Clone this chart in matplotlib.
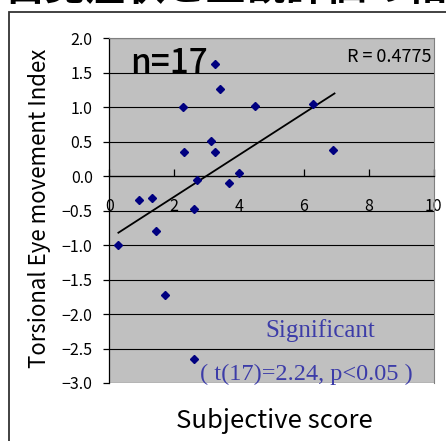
import matplotlib
matplotlib.use('Agg')
import matplotlib.pyplot as plt
from matplotlib.patches import Rectangle

plt.rcParams['font.family'] = ['Noto Sans CJK JP', 'DejaVu Sans']

# subjective score vs torsional eye movement index
score = [3.26, 3.40, 2.28, 4.50, 6.27, 3.13, 2.31, 3.27, 6.89, 4.01,
         2.70, 3.70, 0.93, 1.31, 2.62, 1.43, 0.28, 1.71, 2.62]
index = [1.62, 1.27, 1.00, 1.02, 1.05, 0.51, 0.35, 0.35, 0.38, 0.04,
         -0.06, -0.10, -0.34, -0.32, -0.48, -0.79, -1.00, -1.72, -2.65]

# regression line end points
fit_x = [0.28, 6.94]
fit_y = [-0.82, 1.20]

xticks = [0, 2, 4, 6, 8, 10]
yticks = [2.0, 1.5, 1.0, 0.5, 0.0, -0.5, -1.0, -1.5, -2.0, -2.5, -3.0]

fig = plt.figure(figsize=(4.46, 4.41), dpi=100)
fig.patch.set_facecolor('white')

# outer frame (only top and left edges visible)
fig.patches.append(Rectangle((9/446, -0.1), 1.2, 1.1 - 12/441,
                             transform=fig.transFigure, fill=False,
                             edgecolor='#333333', linewidth=1.3))
# cut-off title
fig.text(0.55, 1 - 8.5/441, '自覚症状と主観評価の相関', ha='center', va='bottom',
         fontsize=29, fontweight='bold', color='black')

ax = fig.add_axes([109.3/446, 1 - 383/441, 324.5/446, 344.7/441])
ax.set_facecolor('#c0c0c0')
ax.set_xlim(0, 10)
ax.set_ylim(-3, 2)

for y in yticks:
    ax.axhline(y, color='black', linewidth=0.8, zorder=1)

ax.plot(fit_x, fit_y, color='black', linewidth=1.3, zorder=2)
ax.plot(score, index, linestyle='none', marker='D', markersize=4.5,
        color='#000080', zorder=3)

ax.spines['bottom'].set_position(('data', 0))
ax.spines['bottom'].set_linewidth(0.9)
ax.spines['left'].set_linewidth(0.9)
ax.spines['top'].set_color('#808080')
ax.spines['right'].set_color('#808080')

ax.set_xticks(xticks)
ax.set_xticklabels([str(v) for v in xticks])
ax.set_yticks(yticks)
ax.set_yticklabels([f'{v:.1f}'.replace('-', '\u2212') for v in yticks])
ax.tick_params(axis='x', direction='in', length=5, width=0.9, pad=16,
               labelsize=11.5)
ax.tick_params(axis='y', direction='out', length=4, width=0.9, pad=8,
               labelsize=11.5)

ax.text(0.064, 0.927, 'n=17', transform=ax.transAxes, fontsize=24,
        ha='left', va='center', fontweight='medium')
ax.text(0.994, 0.946, 'R = 0.4775', transform=ax.transAxes, fontsize=13,
        ha='right', va='center')
ax.text(0.65, 0.151, 'Significant', transform=ax.transAxes, fontsize=18,
        ha='center', va='center', color='#3c3ca8', family='Liberation Serif')
ax.text(0.606, 0.026, '( t(17)=2.24, p<0.05 )', transform=ax.transAxes,
        fontsize=17.5, ha='center', va='center', color='#3c3ca8',
        family='Liberation Serif')

fig.text(274/446, 1 - 421/441, 'Subjective score', ha='center', va='center',
         fontsize=18.5)
fig.text(40/446, 1 - 208/441, 'Torsional Eye movement Index', ha='center',
         va='center', rotation=90, fontsize=16)

fig.savefig('out.png', dpi=100)
